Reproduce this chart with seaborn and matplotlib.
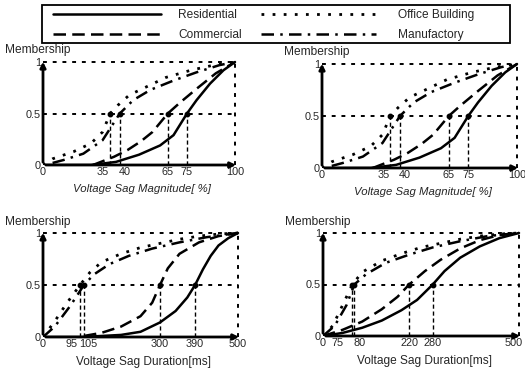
import numpy as np
import pandas as pd
import seaborn as sns
import matplotlib
matplotlib.use("Agg")
import matplotlib.pyplot as plt
import matplotlib.transforms as mtransforms
from matplotlib.lines import Line2D
from matplotlib.patches import Rectangle

sns.set_theme(style="white")
plt.rcParams['font.family'] = ['Liberation Sans', 'DejaVu Sans']

series = ["Residential", "Commercial", "Office Building", "Manufactory"]

# Panel 1 & 2: Voltage sag magnitude [%]
mag_res_x = [0, 25, 38, 50, 61, 68, 75, 80, 87, 94, 100]
mag_res_y = [0, 0, 0.03, 0.1, 0.19, 0.29, 0.5, 0.63, 0.79, 0.92, 1]
mag_com_x = [26, 37, 44, 51, 57, 65, 71, 80, 90, 100]
mag_com_y = [0, 0.08, 0.145, 0.23, 0.32, 0.5, 0.6, 0.74, 0.89, 1]
mag_off_x = [0, 5, 16, 25, 31, 35, 39, 45, 54, 64, 77, 89, 100]
mag_off_y = [0, 0.06, 0.13, 0.21, 0.32, 0.5, 0.58, 0.68, 0.76, 0.85, 0.92, 0.97, 1]
mag_man_x = [5, 11, 21, 31, 40, 47, 56, 68, 80, 92, 100]
mag_man_y = [0.02, 0.05, 0.11, 0.24, 0.5, 0.63, 0.73, 0.82, 0.9, 0.97, 1]
mag_ticks = [0, 35, 40, 65, 75, 100]
mag_half = [35, 40, 65, 75]

# Panel 3: Voltage sag duration [ms]
d1_res_x = [0, 100, 200, 250, 300, 340, 370, 390, 410, 430, 450, 475, 500]
d1_res_y = [0, 0, 0.02, 0.05, 0.14, 0.25, 0.38, 0.5, 0.65, 0.78, 0.88, 0.95, 1]
d1_com_x = [105, 150, 200, 250, 280, 300, 320, 350, 400, 450, 500]
d1_com_y = [0.01, 0.04, 0.1, 0.2, 0.33, 0.5, 0.66, 0.8, 0.91, 0.97, 1]
d1_off_x = [0, 30, 60, 95, 120, 150, 200, 250, 300, 350, 400, 450, 500]
d1_off_y = [0, 0.15, 0.32, 0.5, 0.62, 0.72, 0.8, 0.86, 0.9, 0.94, 0.97, 0.99, 1]
d1_man_x = [0, 30, 70, 105, 130, 170, 220, 280, 350, 420, 500]
d1_man_y = [0, 0.1, 0.3, 0.5, 0.6, 0.7, 0.78, 0.85, 0.91, 0.96, 1]
d1_ticks = [0, 95, 105, 300, 390, 500]
d1_half = [95, 105, 300, 390]

# Panel 4: Voltage sag duration [ms]
d2_res_x = [0, 50, 100, 150, 200, 240, 280, 310, 350, 400, 450, 500]
d2_res_y = [0, 0.03, 0.08, 0.15, 0.25, 0.35, 0.5, 0.63, 0.76, 0.87, 0.95, 1]
d2_com_x = [0, 50, 100, 150, 190, 220, 260, 300, 350, 400, 450, 500]
d2_com_y = [0, 0.06, 0.14, 0.26, 0.38, 0.5, 0.63, 0.74, 0.85, 0.93, 0.98, 1]
d2_off_x = [0, 25, 50, 75, 100, 150, 200, 250, 300, 350, 400, 450, 500]
d2_off_y = [0, 0.1, 0.3, 0.5, 0.62, 0.73, 0.8, 0.86, 0.9, 0.94, 0.97, 0.99, 1]
d2_man_x = [0, 30, 60, 80, 110, 160, 220, 280, 350, 420, 500]
d2_man_y = [0, 0.1, 0.3, 0.5, 0.6, 0.71, 0.79, 0.86, 0.92, 0.97, 1]
d2_ticks = [0, 75, 80, 220, 280, 500]
d2_half = [75, 80, 220, 280]

y_ticks = [0, 0.5, 1]
y_ticklabels = ["0", "0.5", "1"]

styles = {
    "Residential": (None, 1.8),
    "Commercial": ((5, 2.5), 1.8),
    "Office Building": ((1, 3), 2.0),
    "Manufactory": ((5, 2.5, 1, 2.5), 1.8),
}

W, H = 525, 372
fig = plt.figure(figsize=(W / 100, H / 100), dpi=100)
TICK_FS = 7.8
LAB_FS = 8.6


def make_df(curves):
    rows = []
    for name, xs, ys in curves:
        for x, y in zip(xs, ys):
            rows.append((name, x, y))
    return pd.DataFrame(rows, columns=["series", "x", "y"])


def panel(px0, px1, py0, py1, xmax, curves, ticks, half, xlabel, italic, offsets):
    xext = xmax * 1.035
    yext = 1.08
    sx = (px1 - px0) / xmax
    sy = (py0 - py1) / 1.0
    left = px0 / W
    bottom = 1 - py0 / H
    width = sx * xext / W
    height = sy * yext / H
    ax = fig.add_axes([left, bottom, width, height])
    df = make_df(curves)
    for name in series:
        d = df[df.series == name]
        dash, lw = styles[name]
        sns.lineplot(data=d, x="x", y="y", ax=ax, color="black", lw=lw,
                     estimator=None, sort=False, legend=False)
        if dash is not None:
            ax.lines[-1].set_dashes(dash)
    # guide lines
    ax.plot([0, xmax], [1, 1], color="black", lw=1.4, dashes=(2, 3))
    ax.plot([0, xmax], [0.5, 0.5], color="black", lw=1.4, dashes=(2, 3))
    ax.plot([xmax, xmax], [0, 1], color="black", lw=1.4, dashes=(2, 3))
    for h in half:
        ax.plot([h, h], [0, 0.5], color="black", lw=1.0, dashes=(3, 2))
        ax.plot([h], [0.5], marker="o", ms=3.2, color="black")
    ax.set_xlim(0, xext)
    ax.set_ylim(0, yext)
    for s in ax.spines.values():
        s.set_visible(False)
    ax.annotate("", xy=(xmax * 1.02, 0), xytext=(0, 0),
                arrowprops=dict(arrowstyle="-|>", color="black", lw=2, mutation_scale=8),
                annotation_clip=False)
    ax.annotate("", xy=(0, 1.03), xytext=(0, 0),
                arrowprops=dict(arrowstyle="-|>", color="black", lw=2, mutation_scale=8),
                annotation_clip=False)
    ax.set_xticks(ticks)
    ax.set_xticklabels([str(t) for t in ticks], fontsize=TICK_FS)
    ax.set_yticks(y_ticks)
    ax.set_yticklabels(y_ticklabels, fontsize=TICK_FS)
    ax.tick_params(length=0, pad=1.5)
    for lab, dx in zip(ax.get_xticklabels(), offsets):
        if dx:
            lab.set_transform(lab.get_transform() +
                              mtransforms.ScaledTranslation(dx / 100, 0, fig.dpi_scale_trans))
    ax.set_xlabel(xlabel, fontsize=8.2 if italic else LAB_FS,
                  style="italic" if italic else "normal", labelpad=5)
    ax.set_ylabel("")
    ax.set_facecolor("none")
    fig.text((px0 - 38) / W, 1 - (py1 - 11.5) / H, "Membership", fontsize=LAB_FS,
             va="center", ha="left")
    return ax


mag_curves = [("Residential", mag_res_x, mag_res_y), ("Commercial", mag_com_x, mag_com_y),
              ("Office Building", mag_off_x, mag_off_y), ("Manufactory", mag_man_x, mag_man_y)]
d1_curves = [("Residential", d1_res_x, d1_res_y), ("Commercial", d1_com_x, d1_com_y),
             ("Office Building", d1_off_x, d1_off_y), ("Manufactory", d1_man_x, d1_man_y)]
d2_curves = [("Residential", d2_res_x, d2_res_y), ("Commercial", d2_com_x, d2_com_y),
             ("Office Building", d2_off_x, d2_off_y), ("Manufactory", d2_man_x, d2_man_y)]

panel(43, 235, 165, 62, 100, mag_curves, mag_ticks, mag_half, "Voltage Sag Magnitude[ %]", True,
      [0, -7, 5, 0, 0, 0])
panel(322, 517, 168, 64, 100, mag_curves, mag_ticks, mag_half, "Voltage Sag Magnitude[ %]", True,
      [0, -7, 5, 0, 0, 0])
panel(43, 238, 337, 233, 500, d1_curves, d1_ticks, d1_half, "Voltage Sag Duration[ms]", False,
      [0, -8, 4, 0, 0, 0])
panel(323, 519, 336, 233, 500, d2_curves, d2_ticks, d2_half, "Voltage Sag Duration[ms]", False,
      [0, -15, 5, 0, 0, -5])

# legend box
fig.add_artist(Rectangle((42 / W, 1 - 43 / H), 468 / W, 38 / H, transform=fig.transFigure,
                         fill=False, edgecolor="black", lw=1.3))


def mk_handles(names):
    hs = []
    for name in names:
        dash, lw = styles[name]
        l = Line2D([], [], color="black", lw=lw)
        if dash is not None:
            l.set_dashes(dash)
        hs.append(l)
    return hs


col1 = ["Residential", "Commercial"]
col2 = ["Office Building", "Manufactory"]
leg1 = fig.legend(mk_handles(col1), col1, loc="upper left",
                  bbox_to_anchor=(53 / W, 1 - 9 / H), handlelength=9.0, handletextpad=1.5,
                  fontsize=LAB_FS, frameon=False, borderpad=0, borderaxespad=0,
                  labelspacing=0.7, handleheight=0.7)
leg2 = fig.legend(mk_handles(col2), col2, loc="upper left",
                  bbox_to_anchor=(261 / W, 1 - 9 / H), handlelength=9.6, handletextpad=1.9,
                  fontsize=LAB_FS, frameon=False, borderpad=0, borderaxespad=0,
                  labelspacing=0.7, handleheight=0.7)

fig.savefig("out.png", dpi=100)
